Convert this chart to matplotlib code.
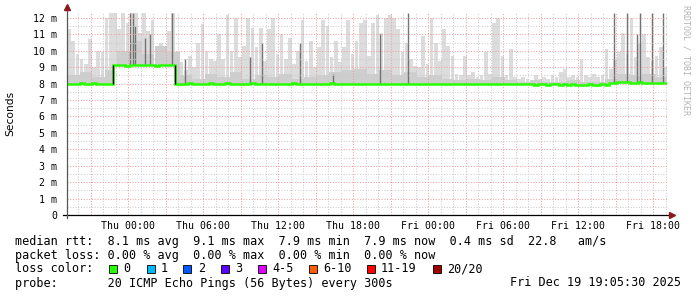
import matplotlib
matplotlib.use("Agg")
import matplotlib.pyplot as plt
from matplotlib.patches import Rectangle
import numpy as np

W, H = 697, 297

# медиана rtt, мс; интервалы по 20 минут начиная со Wed 19:05:30
median_rtt = [
    8.00, 7.98, 8.00, 8.01, 7.99, 8.00, 8.02, 7.99, 8.00, 7.98, 8.00, 9.12,
    9.12, 9.14, 9.10, 9.12, 9.13, 9.11, 9.12, 9.14, 9.12, 9.10, 9.12, 9.13,
    9.12, 9.14, 8.00, 7.98, 8.00, 8.01, 7.99, 8.00, 7.98, 8.00, 8.01, 8.00,
    7.99, 8.00, 8.01, 7.99, 8.00, 7.98, 8.00, 7.99, 8.01, 8.00, 7.98, 8.00,
    7.99, 8.00, 8.00, 7.98, 7.99, 8.00, 8.01, 7.99, 7.98, 8.00, 7.99, 8.00,
    7.98, 8.00, 7.99, 8.01, 8.00, 7.98, 7.99, 8.00, 7.99, 7.98, 8.00, 7.99,
    7.98, 7.99, 8.00, 7.98, 7.99, 7.98, 8.00, 7.99, 7.98, 7.99, 7.98, 7.97,
    7.98, 7.97, 7.99, 7.98, 7.97, 7.98, 7.96, 7.97, 7.98, 7.96, 7.97, 7.98,
    7.97, 7.96, 7.98, 7.97, 7.96, 7.97, 7.98, 7.96, 7.97, 7.95, 7.96, 7.97,
    7.96, 7.95, 7.97, 7.96, 7.94, 7.95, 7.96, 7.93, 7.95, 7.96, 7.94, 7.95,
    7.93, 7.95, 7.94, 7.92, 7.94, 7.95, 7.93, 7.94, 7.95, 7.94, 8.05, 8.06,
    8.08, 8.12, 8.07, 8.05, 8.06, 8.08, 8.05, 8.04, 8.06, 8.05, 8.04, 8.05,
]

# верх "дыма" (максимальный пинг), мс
smoke_top = [
    11.3, 10.6, 9.8, 9.5, 9.2, 10.7, 9.0, 10.0, 9.9, 12.0, 12.3, 12.3,
    11.3, 12.3, 11.7, 12.3, 12.3, 11.1, 12.3, 11.2, 11.9, 9.8, 10.5, 10.0,
    11.2, 12.3, 10.0, 9.3, 8.8, 9.7, 9.0, 10.5, 11.6, 10.0, 9.5, 9.4,
    11.0, 9.5, 12.2, 10.0, 12.0, 9.6, 10.3, 12.0, 11.4, 10.2, 11.4, 9.4,
    11.3, 12.0, 9.8, 11.0, 9.5, 10.8, 9.2, 10.0, 11.9, 9.4, 10.6, 9.0,
    10.2, 11.9, 11.5, 9.6, 10.6, 9.3, 10.2, 11.9, 9.8, 10.6, 11.7, 11.9,
    9.7, 11.7, 12.2, 11.1, 12.0, 12.2, 12.0, 11.3, 9.9, 10.5, 9.5, 9.1,
    9.0, 10.9, 9.2, 12.0, 10.5, 9.4, 11.3, 10.3, 9.7, 8.6, 8.5, 9.7,
    8.5, 8.7, 8.4, 8.5, 9.9, 8.6, 11.7, 12.0, 9.7, 8.5, 10.1, 8.4,
    8.3, 8.4, 8.3, 8.2, 8.5, 8.3, 8.4, 8.3, 8.5, 8.4, 8.7, 8.9,
    8.4, 8.5, 8.4, 9.5, 8.5, 8.4, 8.6, 8.4, 8.5, 10.1, 8.9, 9.5,
    9.9, 11.1, 9.8, 12.0, 9.6, 10.5, 11.0, 9.6, 9.4, 9.7, 10.2, 9.0,
]

# плотная полоса дыма над медианой, по часам
smoke_band = [
    8.5, 8.7, 8.4, 8.8,
    10.0, 10.6, 9.8, 10.3, 9.9,
    8.5, 8.3, 8.6, 8.4, 8.7, 8.3, 8.5, 8.4, 8.6, 8.3, 8.4, 8.5,
    8.7, 8.8, 8.9, 8.6, 8.8, 8.5, 8.7,
    8.4, 8.5, 8.3, 8.2, 8.3, 8.2, 8.4, 8.2,
    8.1, 8.2, 8.1, 8.1, 8.2, 8.1, 8.1,
    8.3, 8.6, 8.5, 8.6, 8.4,
]

# отдельные тёмные выбросы: час от начала и верх, мс
dark_hours = [5.04, 5.28, 5.44, 6.24, 6.64, 8.40, 9.44, 14.64, 15.6,
              18.64, 21.30, 25.0, 27.28, 43.76, 44.80, 45.60, 45.84,
              46.80, 47.68]
dark_tops = [12.3, 12.3, 11.5, 10.8, 11.0, 12.3, 9.5, 9.6, 10.5,
             10.5, 8.6, 11.0, 12.3, 12.3, 12.3, 11.0, 12.3,
             12.3, 12.3]

x_tick_hours = [4.91, 10.91, 16.91, 22.91, 28.91, 34.91, 40.91, 46.91]
x_tick_labels = ["Thu 00:00", "Thu 06:00", "Thu 12:00", "Thu 18:00",
                 "Fri 00:00", "Fri 06:00", "Fri 12:00", "Fri 18:00"]
y_tick_values = [0, 1, 2, 3, 4, 5, 6, 7, 8, 9, 10, 11, 12]
y_tick_labels = ["0"] + [f"{v} m" for v in y_tick_values[1:]]

loss_labels = ["0", "1", "2", "3", "4-5", "6-10", "11-19", "20/20"]
loss_colors = ["#26ff00", "#00b8ff", "#0059ff", "#5e00ff", "#dd00ff",
               "#ff5e00", "#ff0000", "#a10000"]

legend_rows = [
    "median rtt:  8.1 ms avg  9.1 ms max  7.9 ms min  7.9 ms now  0.4 ms sd  22.8   am/s",
    "packet loss: 0.00 % avg  0.00 % max  0.00 % min  0.00 % now",
    "loss color:",
    "probe:       20 ICMP Echo Pings (56 Bytes) every 300s",
]
timestamp = "Fri Dec 19 19:05:30 2025"

MONO = "DejaVu Sans Mono"


def fx(px):
    return px / W


def fy(py):
    return 1 - py / H


fig = plt.figure(figsize=(W / 100, H / 100), dpi=100)
ax = fig.add_axes([fx(67), fy(215), 600 / W, 202 / H])

med = np.array(median_rtt)
top = np.array(smoke_top)
band = np.repeat(np.array(smoke_band), 3)
bin_h = 1 / 3
centers = (np.arange(len(med)) + 0.5) * bin_h
edges = np.arange(len(med) + 1) * bin_h

# дым: узкие пики и полоса над медианой
ax.bar(centers, np.maximum(top - med, 0), bottom=med, width=0.29,
       color="#dcdcdc", linewidth=0, zorder=1)
ax.bar(centers, np.maximum(band - med, 0), bottom=med, width=bin_h,
       color="#cecece", linewidth=0, zorder=1.2)
dh = np.array(dark_hours)
base = med[(dh / bin_h).astype(int)]
ax.vlines(dh, base, dark_tops, color="#727272", linewidth=1.0, zorder=1.4)

# медиана
ax.stairs(med, edges, color="#26ff00", linewidth=1.8, baseline=None, zorder=3)
jumps = np.where(np.abs(np.diff(med)) > 0.5)[0]
ax.vlines(edges[jumps + 1], med[jumps], med[jumps + 1],
          color="black", linewidth=1.0, zorder=3.5)

ax.set_xlim(0, 48)
ax.set_ylim(0, 12.3)

major_x = np.arange(1.91, 48, 3)
minor_x = np.arange(0.91, 48, 1)
ax.set_xticks(major_x)
ax.set_xticks(minor_x, minor=True)
ax.set_xticklabels([x_tick_labels[x_tick_hours.index(round(v, 2))]
                    if round(v, 2) in x_tick_hours else "" for v in major_x],
                   family=MONO, fontsize=7.1)
ax.set_yticks(y_tick_values)
ax.set_yticks(np.arange(0.5, 12.3, 1), minor=True)
ax.set_yticklabels(y_tick_labels, family=MONO, fontsize=7.1)
ax.tick_params(axis="both", which="both", length=0)
ax.tick_params(axis="x", pad=4)
ax.tick_params(axis="y", pad=7)

ax.set_axisbelow(False)
ax.grid(which="major", color="#f0a0a0", linestyle=(0, (1, 1.6)), linewidth=0.75)
ax.grid(which="minor", color="#cccccc", linestyle=(0, (1, 1.6)), linewidth=0.75)

for s in ax.spines.values():
    s.set_visible(False)

# оси со стрелками
ax.plot([-0.006, 1.006], [0, 0], transform=ax.transAxes, color="black",
        linewidth=0.9, clip_on=False, zorder=4)
ax.plot([1.008], [0], transform=ax.transAxes, marker=">", markersize=4.5,
        color="#8b1a1a", clip_on=False, zorder=4)
ax.plot([0, 0], [-0.015, 1.02], transform=ax.transAxes, color="#555555",
        linewidth=0.9, clip_on=False, zorder=4)
ax.plot([0], [1.028], transform=ax.transAxes, marker="^", markersize=4.5,
        color="#8b1a1a", clip_on=False, zorder=4)

fig.text(fx(10), fy(113), "Seconds", rotation=90, fontsize=7.7,
         family="DejaVu Sans", ha="center", va="center")
fig.text(fx(686), fy(60), "RRDTOOL / TOBI OETIKER", rotation=270,
         fontsize=6, family=MONO, color="#b4b4b4", ha="center", va="center")

# легенда
row_y = [241, 255, 269, 283]
for text, y in zip(legend_rows, row_y):
    fig.text(fx(15), fy(y), text, family=MONO, fontsize=8.5,
             ha="left", va="center")
fig.text(fx(681), fy(283), timestamp, family=MONO, fontsize=8.5,
         ha="right", va="center")

label_x = [123, 161, 198, 235, 272, 323, 381, 447]
for lab, col, x in zip(loss_labels, loss_colors, label_x):
    fig.patches.append(Rectangle((fx(x - 14.5), fy(273)), 8 / W, 8 / H,
                                 transform=fig.transFigure, facecolor=col,
                                 edgecolor="black", linewidth=0.6))
    fig.text(fx(x), fy(269), lab, family=MONO, fontsize=8.5,
             ha="left", va="center")

fig.savefig("out.png", dpi=100)
